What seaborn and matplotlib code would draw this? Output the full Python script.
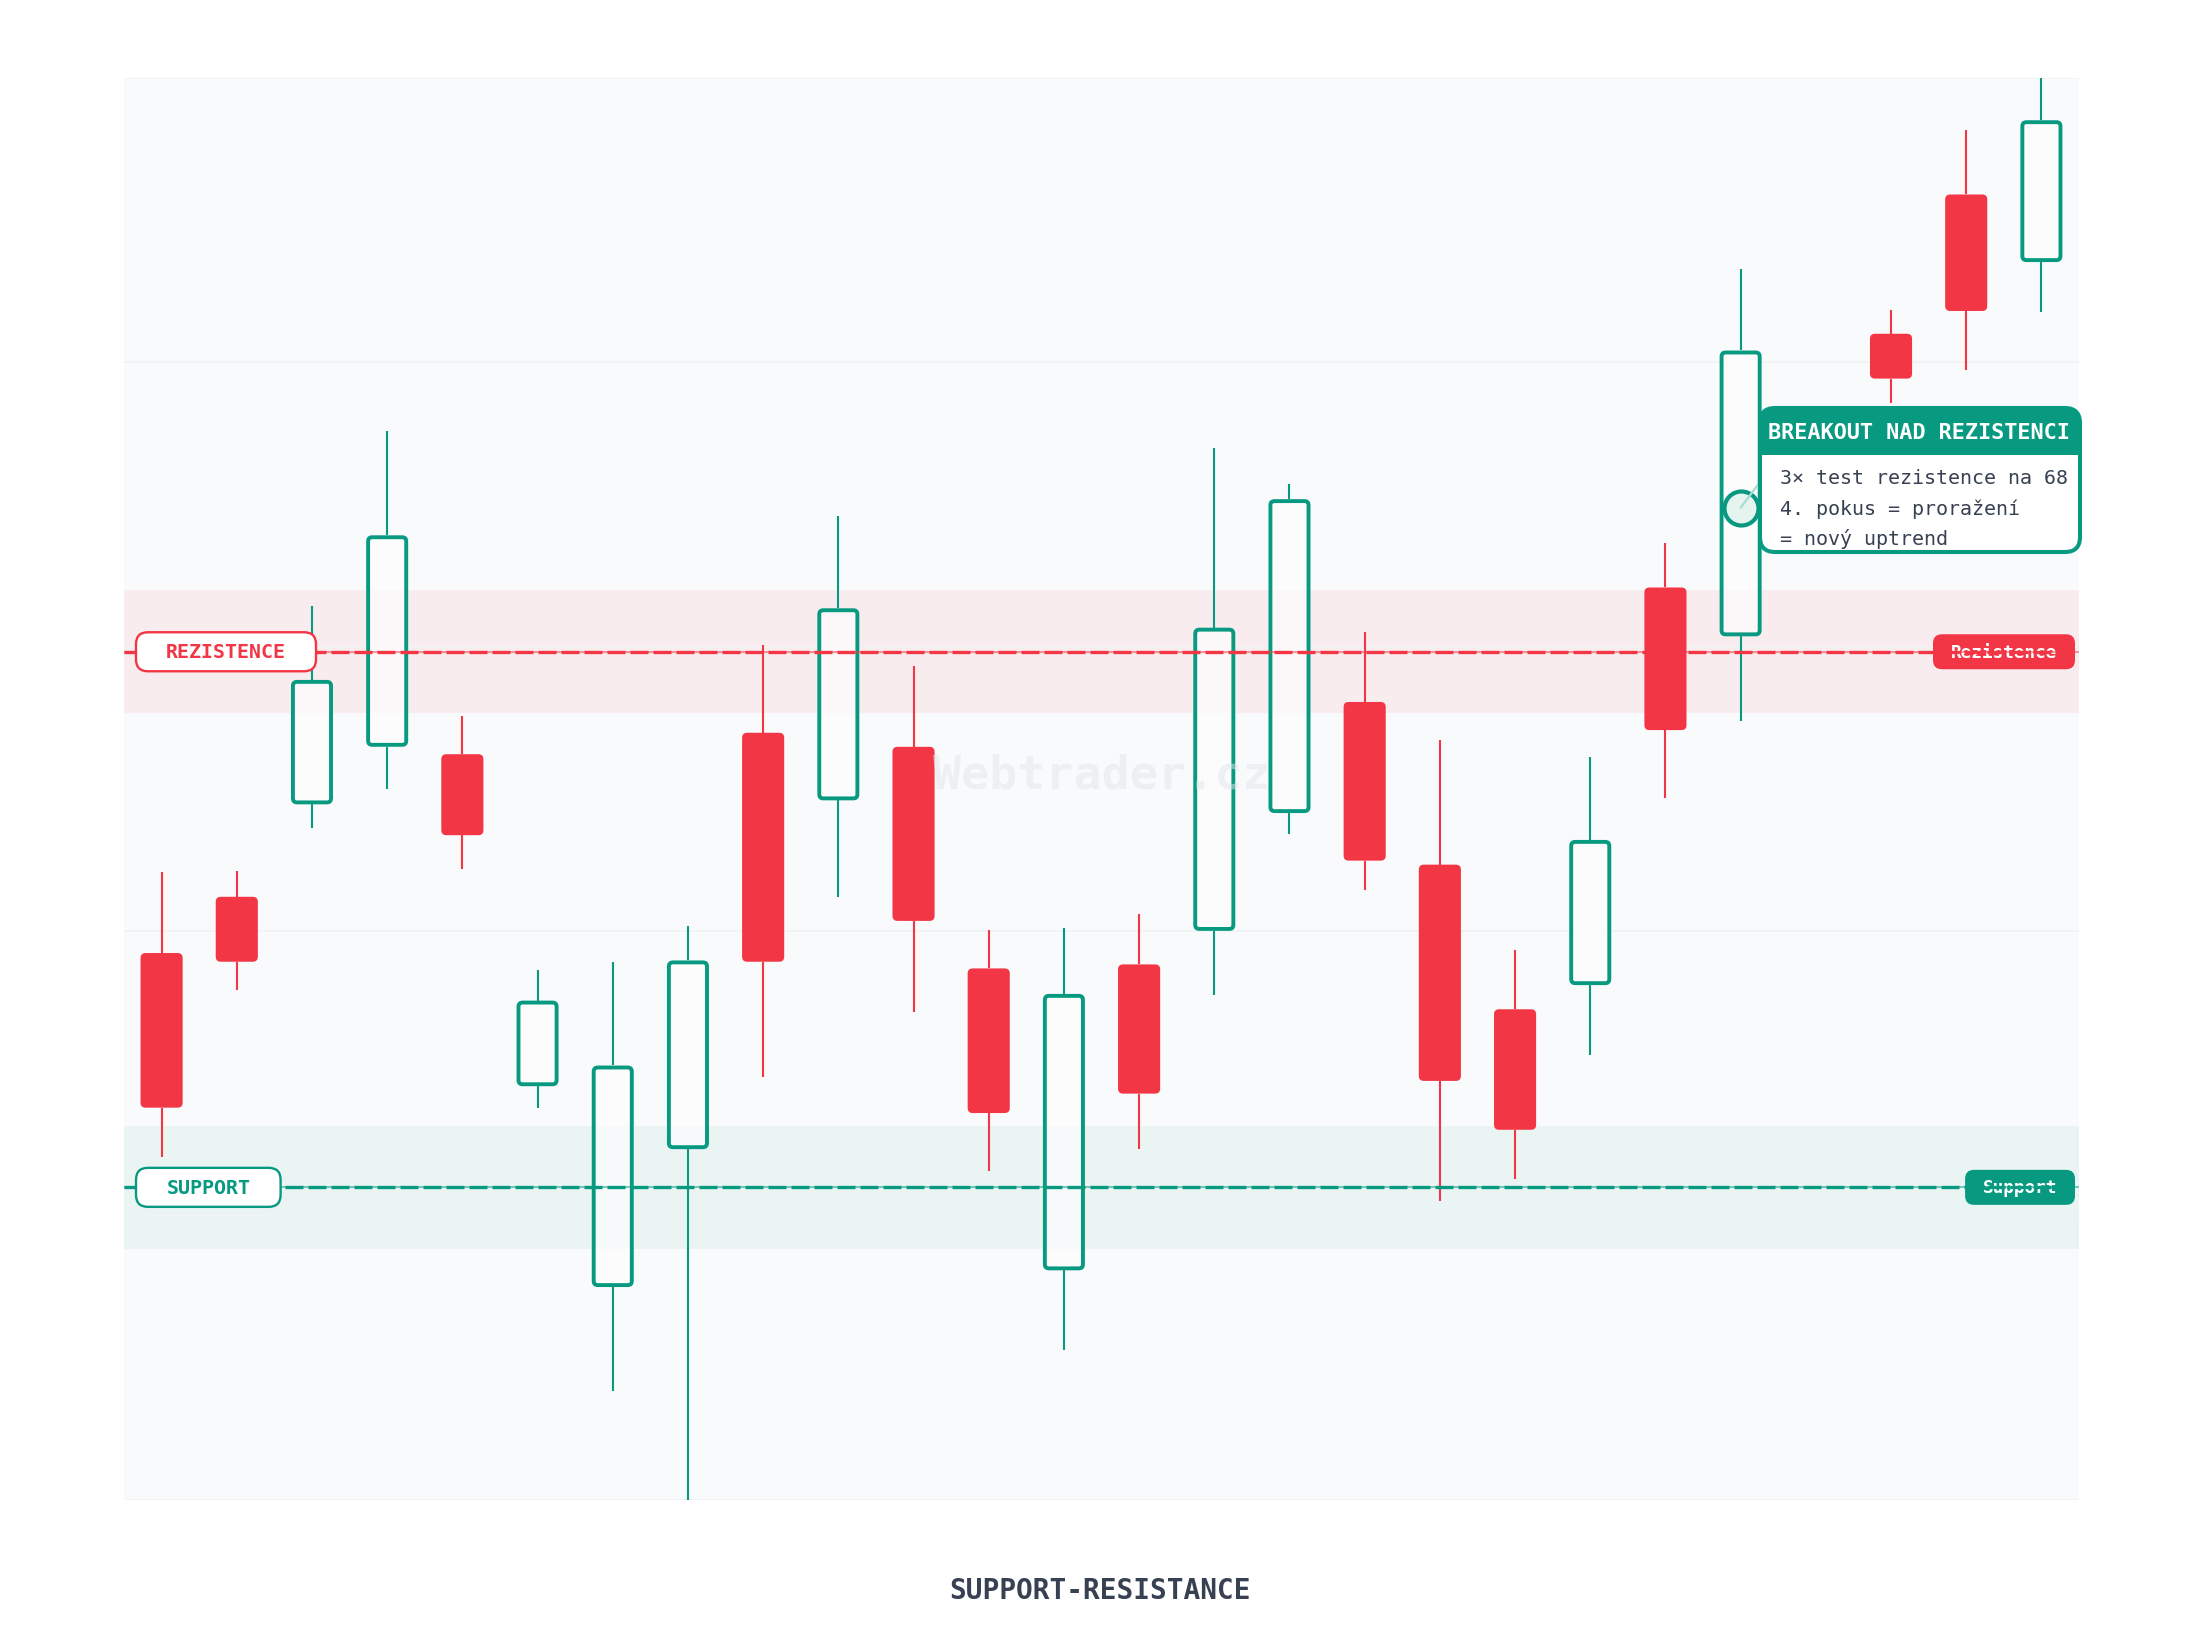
import numpy as np
import pandas as pd
import matplotlib
matplotlib.use("Agg")
import matplotlib.pyplot as plt
import seaborn as sns
from matplotlib.patches import FancyBboxPatch, Rectangle

# ---------------- data ----------------
days = list(range(1, 27))
opens = [63.50, 64.34, 65.72, 66.58, 66.47, 61.51, 58.51, 60.57, 66.79, 65.78,
         66.58, 63.27, 58.76, 63.33, 63.83, 65.59, 67.25, 64.82, 62.66, 63.02,
         68.96, 68.23, 71.25, 72.75, 74.83, 73.82]
closes = [61.19, 63.37, 67.58, 69.74, 65.26, 62.79, 61.82, 63.39, 63.37, 68.65,
          63.98, 61.11, 62.89, 61.40, 68.36, 70.28, 64.88, 61.59, 60.86, 65.19,
          66.83, 72.50, 70.20, 72.08, 73.09, 75.94]
highs = [64.71, 64.73, 68.69, 71.29, 67.04, 63.25, 63.37, 63.90, 68.10, 70.03,
         67.79, 63.85, 63.87, 64.08, 71.04, 70.51, 68.29, 66.68, 63.54, 66.43,
         69.63, 73.72, 71.46, 73.11, 75.79, 76.57]
lows = [60.46, 62.95, 65.36, 65.95, 64.75, 61.19, 56.96, 55.33, 61.65, 64.34,
        62.62, 60.25, 57.57, 60.57, 62.87, 65.28, 64.44, 59.79, 60.13, 61.97,
        65.82, 66.97, 69.68, 71.71, 72.21, 73.07]

resistance = 68.0
support = 60.0
zone_half = 0.92

breakout_day = 22
breakout_price = 70.15

title_text = "SUPPORT-RESISTANCE"
watermark = "Webtrader.cz"
res_left_label = "REZISTENCE"
sup_left_label = "SUPPORT"
res_right_label = "Rezistence"
sup_right_label = "Support"
note_title = "BREAKOUT NAD REZISTENCI"
note_lines = ["3× test rezistence na 68", "4. pokus = proražení", "= nový uptrend"]

# ---------------- style ----------------
sns.set_theme(style="white")
plt.rcParams['font.family'] = ['DejaVu Sans Mono', 'DejaVu Sans']

RED = '#F23645'
GREEN = '#089981'
TEXT = '#374151'

W, H = 2200, 1640
fig = plt.figure(figsize=(11, 8.2), dpi=200, facecolor='white')
ax_l, ax_b, ax_w, ax_h = 124, 139, 1955, 1422
ax = fig.add_axes([ax_l / W, ax_b / H, ax_w / W, ax_h / H])
ax.set_facecolor('#F9FAFB')

df = pd.DataFrame(dict(day=days, open=opens, high=highs, low=lows, close=closes))
df['x'] = np.arange(len(df))
n = len(df)
ymin, ymax = df['low'].min(), df['high'].max()
ax.set_xlim(-0.5, n - 0.5)
ax.set_ylim(ymin, ymax)
for s in ax.spines.values():
    s.set_visible(False)
ax.set_xticks([])
ax.set_yticks([])
ax.grid(False)

# grid (5 even divisions)
for k in range(6):
    ax.axhline(ymin + k * (ymax - ymin) / 5, color='#F1F3F5', lw=0.7, zorder=1.5)

# zones
ax.axhspan(resistance - zone_half, resistance + zone_half, color=RED, alpha=0.07, lw=0, zorder=1)
ax.axhspan(support - zone_half, support + zone_half, color=GREEN, alpha=0.06, lw=0, zorder=1)

# candles
px_x = ax_w / n                    # px per x unit
px_y = ax_h / (ymax - ymin)        # px per y unit
asp = px_x / px_y
body_w = 0.56
for _, r in df.iterrows():
    up = r['close'] >= r['open']
    col = GREEN if up else RED
    lo, hi = min(r['open'], r['close']), max(r['open'], r['close'])
    ax.vlines([r['x'], r['x']], [r['low'], hi], [lo, r['high']], color=col, lw=0.75, zorder=2.5)
    if up:
        edge_px = 4.0
        bw = body_w - edge_px / px_x
        inset = (edge_px / 2) / px_y
        p = FancyBboxPatch((r['x'] - bw / 2, lo + inset), bw, hi - lo - 2 * inset,
                           boxstyle=f"round,pad=0,rounding_size={4 / px_x}",
                           mutation_aspect=asp, facecolor=(1, 1, 1, 0.6),
                           edgecolor=GREEN, lw=1.4, zorder=3)
    else:
        p = FancyBboxPatch((r['x'] - body_w / 2, lo), body_w, hi - lo,
                           boxstyle=f"round,pad=0,rounding_size={5 / px_x}",
                           mutation_aspect=asp, facecolor=RED, edgecolor='none',
                           lw=0, zorder=3)
    ax.add_patch(p)

# watermark
ax.text(0.5, 0.51, watermark, transform=ax.transAxes, ha='center', va='center',
        fontsize=16.8, fontweight='bold', color='#E3E6EA', alpha=0.5, zorder=3.2)

# level lines
for lvl, col in [(resistance, RED), (support, GREEN)]:
    ax.axhline(lvl, color=col, lw=0.6, alpha=0.6, zorder=4)
    ax.axhline(lvl, color=col, lw=1.2, ls=(0, (5.4, 1.5)), zorder=4)

aasp = ax_w / ax_h


def label_box(left_px, width_px, height_px, lvl, face, edge, lw, radius_px, z):
    yc = (lvl - ymin) / (ymax - ymin)
    x0 = (left_px - ax_l) / ax_w
    w = width_px / ax_w
    h = height_px / ax_h
    p = FancyBboxPatch((x0, yc - h / 2), w, h,
                       boxstyle=f"round,pad=0,rounding_size={radius_px / ax_w}",
                       mutation_aspect=aasp, transform=ax.transAxes, facecolor=face,
                       edgecolor=edge, lw=lw, zorder=z, clip_on=False)
    ax.add_patch(p)
    return x0 + w / 2, yc


# left labels (white boxes above the line)
for lvl, col, txt in [(resistance, RED, res_left_label), (support, GREEN, sup_left_label)]:
    wpx = len(txt) * 11.8 + 62
    cx, cy = label_box(136, wpx, 39, lvl, 'white', col, 0.85, 12, 6)
    ax.text(cx, cy, txt, transform=ax.transAxes, ha='center', va='center',
            fontsize=7.2, fontweight='bold', color=col, zorder=6.1)

# right labels (drawn under the level line)
for lvl, col, txt in [(resistance, RED, res_right_label), (support, GREEN, sup_right_label)]:
    wpx = len(txt) * 10.7 + 35
    cx, cy = label_box(2075 - wpx, wpx, 35, lvl, col, 'none', 0, 9, 3.6)
    ax.text(cx, cy, txt, transform=ax.transAxes, ha='center', va='center',
            fontsize=6.4, fontweight='bold', color='white', zorder=3.7)

# breakout marker
bx = days.index(breakout_day)
ax.scatter([bx], [breakout_price], s=150, facecolor='#E6F4F0', edgecolor=GREEN,
           linewidth=1.5, zorder=7)

# annotation box (axes coords)
x0, x1 = (1760 - ax_l) / ax_w, (2080 - ax_l) / ax_w
y_top = (1501 - 409) / ax_h
y_hdr = (1501 - 456) / ax_h
y_bot = (1501 - 553) / ax_h
rr = 15 / ax_w

ax.annotate('', xy=(bx, breakout_price), xycoords='data',
            xytext=(x0, (1501 - 483) / ax_h), textcoords='axes fraction',
            arrowprops=dict(arrowstyle='-', color='#A5DDD0', lw=0.8, shrinkA=0, shrinkB=0),
            zorder=7.5)

box = FancyBboxPatch((x0, y_bot), x1 - x0, y_top - y_bot,
                     boxstyle=f"round,pad=0,rounding_size={rr}", mutation_aspect=aasp,
                     transform=ax.transAxes, facecolor='white', edgecolor='none',
                     zorder=8, clip_on=False)
ax.add_patch(box)
hdr = Rectangle((x0 - 0.01, y_hdr), x1 - x0 + 0.02, y_top - y_hdr + 0.01,
                transform=ax.transAxes, facecolor=GREEN, edgecolor='none', zorder=8.1,
                clip_on=True)
ax.add_patch(hdr)
hdr.set_clip_path(box)
border = FancyBboxPatch((x0, y_bot), x1 - x0, y_top - y_bot,
                        boxstyle=f"round,pad=0,rounding_size={rr}", mutation_aspect=aasp,
                        transform=ax.transAxes, facecolor='none', edgecolor=GREEN,
                        lw=1.45, zorder=8.2, clip_on=False)
ax.add_patch(border)

ax.text((1768 - ax_l) / ax_w, (1501 - 433) / ax_h, note_title, transform=ax.transAxes,
        ha='left', va='center', fontsize=7.9, fontweight='bold', color='white',
        zorder=9, clip_on=False)
for i, line in enumerate(note_lines):
    ypx = [478, 509, 539][i]
    ax.text((1780 - ax_l) / ax_w, (1501 - ypx) / ax_h, line, transform=ax.transAxes,
            ha='left', va='center', fontsize=7.2, color=TEXT, zorder=9, clip_on=False)

# title
fig.text(0.5, (H - 1591) / H, title_text, ha='center', va='center', fontsize=10,
         fontweight='bold', color=TEXT)

fig.savefig('out.png', dpi=200, facecolor='white')
